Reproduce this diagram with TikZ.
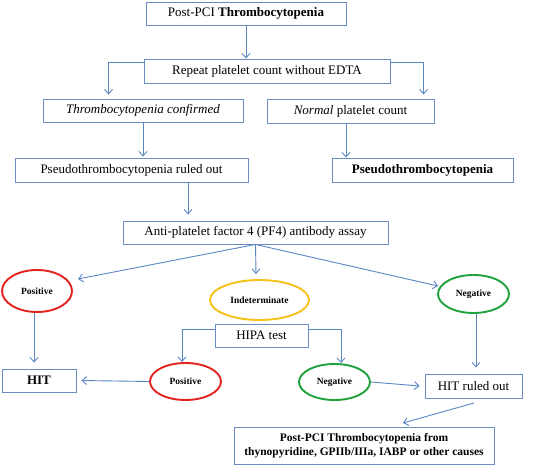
\documentclass[tikz,border=0pt]{standalone}
\usepackage{fontspec}
\setmainfont{Liberation Serif}
\usetikzlibrary{arrows.meta,calc,shapes.geometric}
\definecolor{boxblue}{HTML}{6A8CC0}
\definecolor{arrblue}{HTML}{5A86C4}
\definecolor{ellred}{HTML}{E2231F}
\definecolor{ellyel}{HTML}{F7C11A}
\definecolor{ellgrn}{HTML}{1FA23C}
\tikzset{
  box/.style={draw=boxblue, line width=0.9pt, rectangle, inner sep=0pt, align=center, font=\fontsize{13}{15}\selectfont},
  oval/.style={ellipse, line width=1.9pt, inner sep=0pt, font=\fontsize{9.5}{11}\selectfont\bfseries},
  conn/.style={draw=arrblue, line width=0.9pt, -{Straight Barb[length=4.5pt,width=8pt]}},
}
\begin{document}
\begin{tikzpicture}[x=1pt,y=-1pt]
\useasboundingbox (0,0) rectangle (552,465);
\fill[white] (0,0) rectangle (552,465);
% boxes
\node[box, minimum width=200pt, minimum height=23pt] (top) at (246,13.5) {Post-PCI \textbf{Thrombocytopenia}};
\node[box, minimum width=246pt, minimum height=24pt] (rep) at (267,71) {Repeat platelet count without EDTA};
\node[box, minimum width=200pt, minimum height=23pt] (conf) at (143,110.5) {\textit{Thrombocytopenia confirmed}};
\node[box, minimum width=167pt, minimum height=24pt] (norm) at (350.5,111) {\textit{Normal} platelet count};
\node[box, minimum width=233pt, minimum height=24pt] (rout) at (131.5,170) {Pseudothrombocytopenia ruled out};
\node[box, minimum width=181pt, minimum height=24pt] (pseudo) at (422.5,170) {\textbf{Pseudothrombocytopenia}};
\node[box, minimum width=265pt, minimum height=23pt] (assay) at (255.5,232.5) {Anti-platelet factor 4 (PF4) antibody assay};
\node[oval, draw=ellred, minimum width=70pt, minimum height=42pt] (pos1) at (37,291) {Positive};
\node[oval, draw=ellyel, minimum width=99pt, minimum height=40pt] (ind) at (259.5,300) {Indeterminate};
\node[oval, draw=ellgrn, minimum width=71pt, minimum height=38pt] (neg1) at (473.5,294) {Negative};
\node[box, minimum width=93pt, minimum height=23pt] (hipa) at (261.5,335.5) {HIPA test};
\node[box, minimum width=74pt, minimum height=23pt] (hit) at (39,380.5) {\textbf{HIT}};
\node[oval, draw=ellred, minimum width=71pt, minimum height=37pt] (pos2) at (185.5,381.5) {Positive};
\node[oval, draw=ellgrn, minimum width=71pt, minimum height=36pt] (neg2) at (334.5,382) {Negative};
\node[box, minimum width=97pt, minimum height=24pt] (hout) at (473.5,386) {HIT ruled out};
\node[box, minimum width=260pt, minimum height=37pt, font=\fontsize{11.5}{14}\selectfont\bfseries] (bot) at (364,445.5) {Post-PCI Thrombocytopenia from\\thynopyridine, GPIIb/IIIa, IABP or other causes};
% helper coordinates
\coordinate (a1) at (78,279);
\coordinate (a2) at (438,286);
\coordinate (b1) at (474,403);
\coordinate (b2) at (403,423);
\coordinate (rl) at ($(rep.north west)+(0,4)$);
\coordinate (rr) at ($(rep.north east)+(0,4)$);
\coordinate (cl) at ($(conf.north west)+(66,-4)$);
\coordinate (cr) at ($(norm.north west)+(157,-4)$);
\coordinate (cs) at ($(rout.north -| conf.south)+(0,-1)$);
\coordinate (n1) at ($(norm.south)+(-4.5,0)$);
\coordinate (r1) at ($(rout.south)+(56.5,0)$);
\coordinate (r2) at ($(assay.north)+(0,-6)$);
\coordinate (i1) at ($(ind.north)+(-3.5,-5)$);
\coordinate (p1) at ($(pos1.south)+(-3,0)$);
\coordinate (p1e) at ($(hit.north -| p1)+(0,-6)$);
\coordinate (hl) at ($(hipa.north west)+(0,6)$);
\coordinate (hr) at ($(hipa.north east)+(0,6)$);
\coordinate (p2) at ($(pos2.north)+(-3.5,0)$);
\coordinate (q2) at ($(neg2.north)+(6.5,0)$);
\coordinate (he) at ($(hit.east)+(5,0)$);
\coordinate (hw) at ($(hout.west)+(-5,0)$);
\coordinate (g1) at ($(neg1.south)+(2.5,0)$);
\coordinate (g1e) at ($(hout.north -| g1)+(0,-6)$);
% connectors
\draw[conn] (top.south) -- (top.south |- rep.north);
\draw[conn] (rl) -| (cl);
\draw[conn] (rr) -| (cr);
\draw[conn] (conf.south) -- (cs);
\draw[conn] (n1) -- (n1 |- pseudo.north);
\draw[conn] (r1) -- (r1 |- r2);
\draw[conn] (assay.south) -- (a1);
\draw[conn] (assay.south) -- (i1);
\draw[conn] (assay.south) -- (a2);
\draw[conn] (p1) -- (p1e);
\draw[conn] (hl) -| (p2);
\draw[conn] (hr) -| (q2);
\draw[conn] (pos2.west) -- (he);
\draw[conn] (neg2.east) -- (hw);
\draw[conn] (g1) -- (g1e);
\draw[conn] (b1) -- (b2);
\end{tikzpicture}
\end{document}
